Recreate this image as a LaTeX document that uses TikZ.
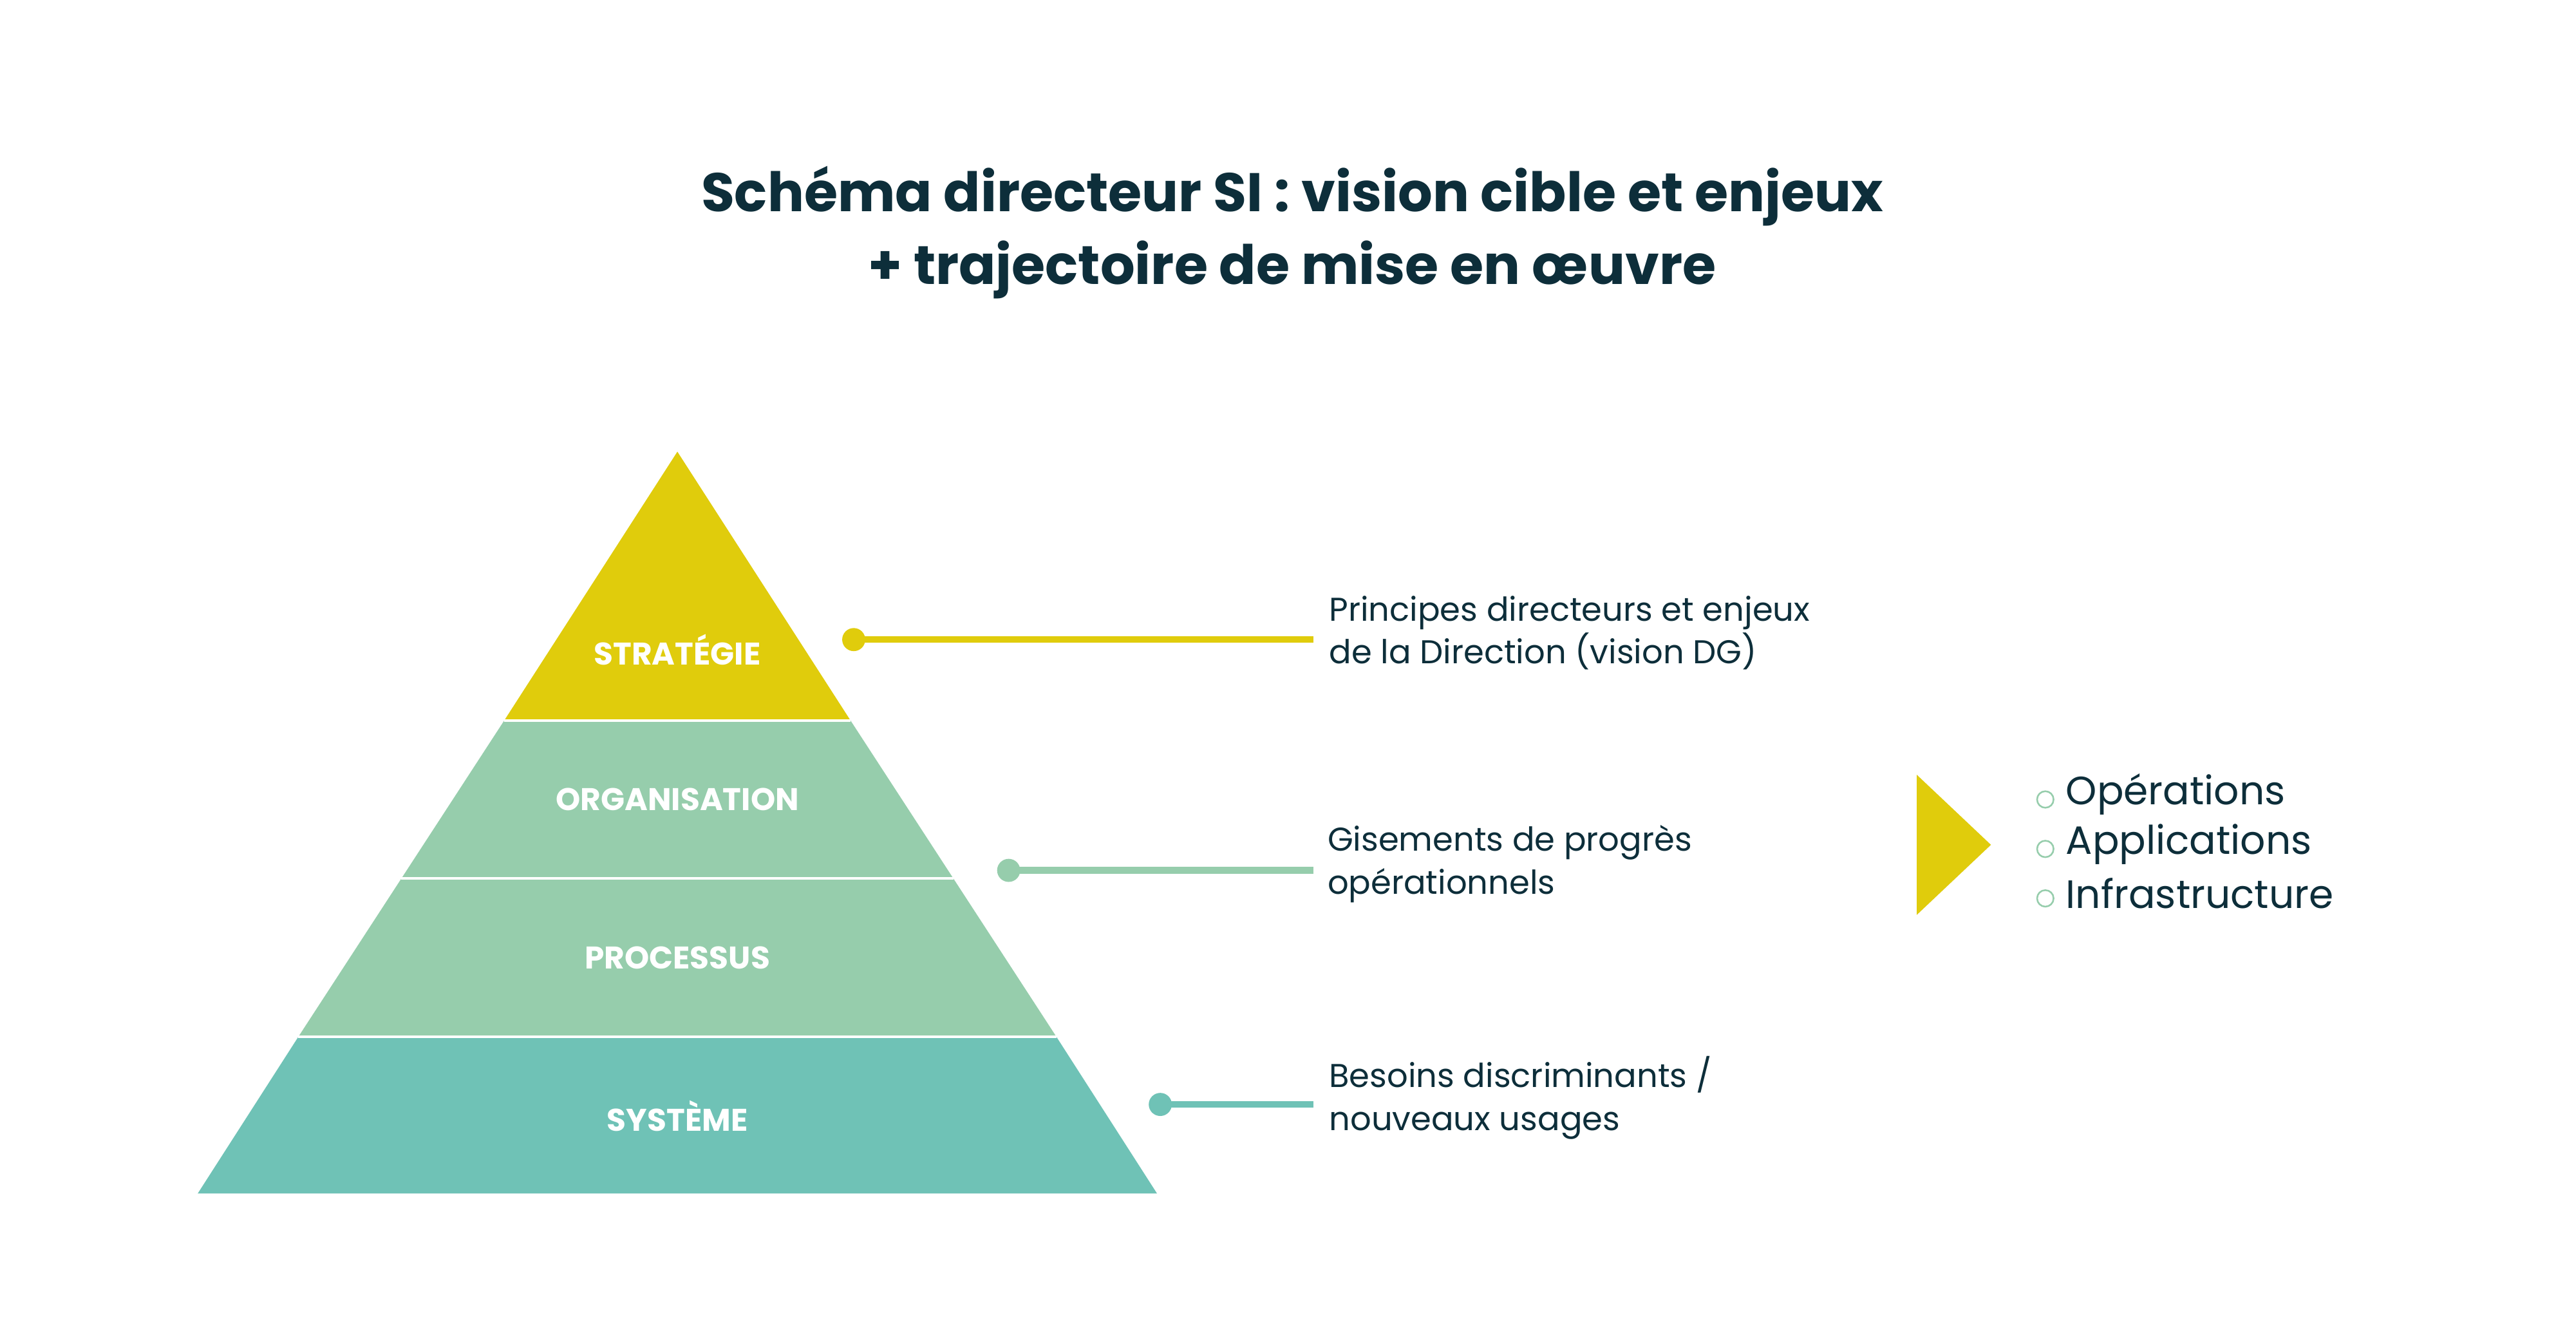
\documentclass[tikz,border=0pt]{standalone}
\usepackage{fontspec}
\setmainfont{Poppins}
\definecolor{ylw}{HTML}{E0CC0C}
\definecolor{lgr}{HTML}{96CDAC}
\definecolor{teal2}{HTML}{6FC2B6}
\definecolor{dark}{HTML}{0D2E3A}
\begin{document}
\begin{tikzpicture}[x=1pt,y=-1pt,
  lvl/.style={font=\fontsize{19}{22}\selectfont\bfseries,text=white},
  desc/.style={font=\fontsize{20}{26}\selectfont,text=dark,anchor=west,align=left},
  conn/.style={line width=4pt},
  bul/.style={font=\fontsize{24}{30}\selectfont,text=dark,anchor=west}]
\fill[white] (0,0) rectangle (1563,814);
\useasboundingbox (0,0) rectangle (1563,814);
\node[font=\fontsize{33}{44}\selectfont\bfseries,text=dark,align=center] (title) at (784,141) {Schéma directeur SI : vision cible et enjeux\\+ trajectoire de mise en œuvre};
% pyramid
\fill[ylw] (411,274) -- (516,437) -- (306,437) -- cycle;
\fill[lgr] (306,437) -- (516,437) -- (578.5,533) -- (243.5,533) -- cycle;
\fill[lgr] (243.5,533) -- (578.5,533) -- (641,629) -- (181,629) -- cycle;
\fill[teal2] (181,629) -- (641,629) -- (702,724) -- (120,724) -- cycle;
\draw[white,line width=1.5pt] (306,437) -- (516,437) (243.5,533) -- (578.5,533) (181,629) -- (641,629);
\node[lvl] (s) at (411,394) {STRATÉGIE};
\node[lvl] (o) at (411,485) {ORGANISATION};
\node[lvl] (p) at (411,581) {PROCESSUS};
\node[lvl] (y) at (411,677) {SYSTÈME};
% connectors
\coordinate (d1) at (518,388); \coordinate (e1) at (797,388);
\coordinate (d2) at (612,528); \coordinate (e2) at (797,528);
\coordinate (d3) at (704,670); \coordinate (e3) at (797,670);
\draw[conn,ylw] (d1) -- (e1); \fill[ylw] (d1) circle (7);
\draw[conn,lgr] (d2) -- (e2); \fill[lgr] (d2) circle (7);
\draw[conn,teal2] (d3) -- (e3); \fill[teal2] (d3) circle (7);
\node[desc] (t1) at (803,384) {Principes directeurs et enjeux\\de la Direction (vision DG)};
\node[desc] (t2) at (802,524) {Gisements de progrès\\opérationnels};
\node[desc] (t3) at (803,666) {Besoins discriminants /\\nouveaux usages};
% right
\fill[ylw] (1163,470) -- (1208,512.5) -- (1163,555) -- cycle;
\foreach \yy/\t in {485/Opérations,515/Applications,545/Infrastructure}{
  \draw[lgr,line width=1pt] (1241,\yy) circle (5);
  \node[bul] at (1250,\yy-3) {\t};
}
\end{tikzpicture}
\end{document}
